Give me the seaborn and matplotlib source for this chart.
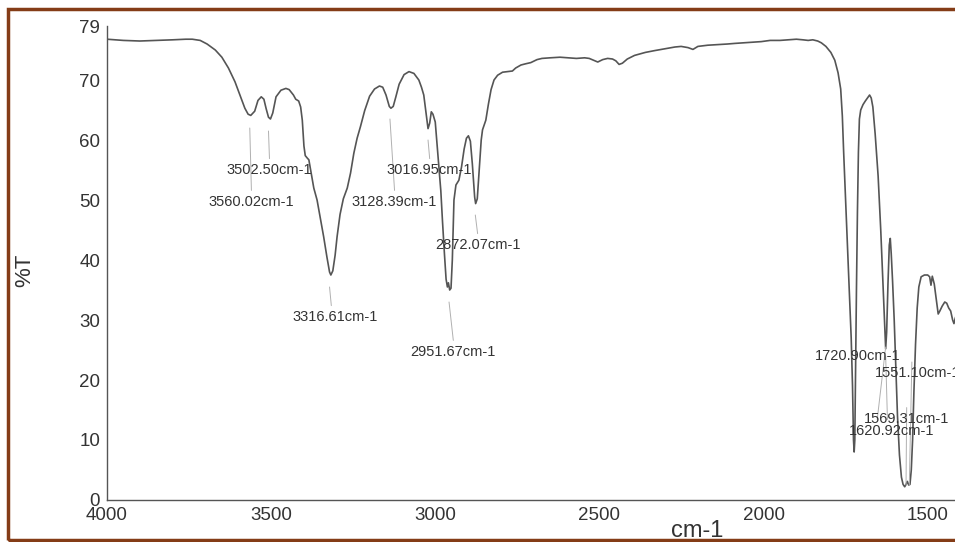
import matplotlib
matplotlib.use("Agg")
import matplotlib.pyplot as plt
from matplotlib.patches import Rectangle
import pandas as pd
import seaborn as sns

# FTIR spectrum: wavenumber (cm-1) and transmittance (%T)
wavenumber = [
    4000, 3950, 3900, 3850, 3800, 3760, 3740, 3716, 3695, 3670, 3650, 3630, 3610,
    3595, 3580, 3570, 3562, 3550, 3540, 3530, 3522, 3515, 3508, 3502, 3495, 3485,
    3470, 3455, 3445, 3432, 3425, 3416, 3410, 3405, 3400, 3396, 3390, 3385, 3378,
    3370, 3360, 3350, 3340, 3330, 3322, 3318, 3312, 3305, 3299, 3290, 3280, 3268,
    3258, 3248, 3238, 3228, 3215, 3200, 3185, 3170, 3160, 3150, 3140, 3135, 3128,
    3120, 3110, 3095, 3080, 3065, 3050, 3042, 3035, 3028, 3022, 3017, 3012, 3007,
    3000, 2994, 2988, 2983, 2978, 2972, 2967, 2963, 2960, 2956, 2952, 2948, 2943,
    2937, 2928, 2920, 2912, 2905, 2899, 2893, 2887, 2880, 2877, 2872, 2866, 2860,
    2856, 2846, 2838, 2830, 2821, 2810, 2795, 2780, 2765, 2755, 2739, 2725, 2709,
    2690, 2675, 2650, 2620, 2597, 2570, 2545, 2531, 2518, 2505, 2490, 2475, 2460,
    2450, 2440, 2430, 2415, 2393, 2360, 2332, 2300, 2270, 2251, 2230, 2215, 2200,
    2170, 2140, 2110, 2088, 2060, 2030, 2007, 1980, 1950, 1925, 1900, 1880, 1864,
    1850, 1835, 1824, 1810, 1795, 1783, 1773, 1765, 1760, 1756, 1750, 1744, 1738,
    1733, 1729, 1726, 1724, 1722, 1720, 1717, 1714, 1711, 1708, 1704, 1697, 1690,
    1682, 1677, 1672, 1667, 1660, 1651, 1643, 1636, 1631, 1628, 1625, 1621, 1617,
    1614, 1611, 1607, 1602, 1597, 1592, 1586, 1580, 1575, 1570, 1566, 1562, 1558,
    1554, 1550, 1546, 1542, 1537, 1532, 1527, 1520, 1510, 1500, 1494, 1490, 1486,
    1480, 1474, 1468, 1463, 1456, 1448, 1442, 1436, 1430, 1424, 1420, 1416, 1411,
]
transmittance = [
    76.8, 76.6, 76.5, 76.6, 76.7, 76.8, 76.8, 76.6, 76.0, 75.0, 73.8, 72.0, 69.7,
    67.5, 65.3, 64.3, 64.1, 64.8, 66.6, 67.2, 66.8, 65.2, 63.8, 63.5, 64.5, 67.2,
    68.3, 68.6, 68.4, 67.5, 66.8, 66.5, 65.5, 63.3, 59.0, 57.4, 57.0, 56.7, 54.5,
    52.0, 50.0, 47.0, 43.9, 40.5, 38.0, 37.5, 38.2, 40.8, 43.9, 47.6, 50.2, 52.0,
    54.5, 57.8, 60.3, 62.2, 64.9, 67.3, 68.5, 69.0, 68.8, 67.5, 65.6, 65.3, 65.6,
    67.2, 69.3, 70.9, 71.4, 71.1, 70.0, 68.8, 67.5, 64.5, 61.9, 62.8, 64.7, 64.3,
    63.0, 59.0, 55.0, 51.5, 46.5, 41.0, 36.8, 35.5, 36.2, 35.0, 35.3, 40.0, 50.0,
    52.5, 53.3, 55.5, 58.5, 60.3, 60.7, 59.8, 56.0, 50.5, 49.4, 50.2, 55.0, 60.0,
    61.7, 63.3, 66.0, 68.4, 70.0, 70.8, 71.3, 71.4, 71.5, 72.0, 72.5, 72.7, 72.9,
    73.4, 73.6, 73.7, 73.8, 73.7, 73.6, 73.7, 73.6, 73.3, 73.0, 73.4, 73.6, 73.5,
    73.2, 72.6, 72.8, 73.5, 74.1, 74.6, 74.9, 75.2, 75.5, 75.6, 75.4, 75.1, 75.6,
    75.8, 75.9, 76.0, 76.1, 76.2, 76.3, 76.4, 76.6, 76.6, 76.7, 76.8, 76.7, 76.6,
    76.7, 76.5, 76.2, 75.6, 74.6, 73.3, 71.2, 68.5, 64.0, 58.0, 50.0, 42.0, 34.0,
    27.0, 19.0, 10.0, 8.0, 10.0, 20.0, 35.0, 48.0, 58.0, 63.5, 65.0, 65.9, 66.5,
    67.1, 67.5, 67.0, 65.5, 61.0, 54.0, 45.0, 35.6, 28.5, 25.2, 28.0, 36.0, 42.5,
    43.6, 41.0, 36.5, 30.0, 22.0, 14.0, 7.5, 3.8, 2.6, 2.2, 2.6, 3.1, 2.5,
    2.6, 5.0, 10.0, 18.0, 26.0, 32.0, 35.5, 37.2, 37.5, 37.5, 37.2, 35.8, 37.3,
    36.0, 33.5, 31.0, 31.5, 32.3, 33.0, 32.8, 32.0, 31.5, 30.0, 29.4, 30.3, 31.1,
]

# Peak annotations: label text, peak (x, y) and label centre (x, y)
peak_labels = ["3560.02cm-1", "3502.50cm-1", "3316.61cm-1", "3128.39cm-1",
               "3016.95cm-1", "2951.67cm-1", "2872.07cm-1", "1720.90cm-1",
               "1551.10cm-1", "1569.31cm-1", "1620.92cm-1"]
peak_x = [3565, 3508, 3322, 3138, 3022, 2958, 2878, 1628, 1556, 1566, 1628]
peak_y = [63.0, 62.5, 36.5, 64.5, 61.0, 34.0, 48.5, 26.5, 3.5, 3.5, 25.0]
label_x = [3560, 3505, 3304, 3124, 3017, 2945, 2871, 1714, 1530, 1564, 1610]
label_y = [49.7, 55.0, 30.5, 49.7, 55.0, 24.7, 42.5, 24.0, 21.1, 13.5, 11.5]
leader_end_y = [51.6, 56.9, 32.4, 51.6, 56.9, 26.6, 44.4, 13.4, 23.0, 15.4, 13.4]

y_ticks = [0, 10, 20, 30, 40, 50, 60, 70, 79]
x_ticks = [4000, 3500, 3000, 2500, 2000, 1500]

df = pd.DataFrame({"wavenumber": wavenumber, "T": transmittance})

sns.set_theme(style="white")
plt.rcParams["font.family"] = ["Liberation Sans", "DejaVu Sans"]

fig = plt.figure(figsize=(9.55, 5.42), dpi=100)
ax = fig.add_axes([0.112, 0.0775, 0.89, 0.8745])

sns.lineplot(data=df, x="wavenumber", y="T", ax=ax, color="#555555",
             linewidth=1.2, sort=False, estimator=None)

# leader lines and peak labels
for txt, px, py, lx, ly, ey in zip(peak_labels, peak_x, peak_y,
                                   label_x, label_y, leader_end_y):
    ax.plot([px, lx if abs(lx - px) < 15 else px + (lx - px) * 0.3],
            [py - 1.0, ey], color="#b0b0b0", linewidth=0.7)
    ax.text(lx, ly, txt, ha="center", va="center", fontsize=10.5,
            color="#333333")

ax.set_xlim(4000, 1411)
ax.set_ylim(0, 79)
ax.set_xticks(x_ticks)
ax.set_yticks(y_ticks)
ax.tick_params(axis="both", labelsize=13.5, colors="#333333", length=4,
               width=0.9, direction="out", pad=1)
ax.tick_params(axis="x", pad=1)

for side in ("top", "right"):
    ax.spines[side].set_visible(False)
for side in ("left", "bottom"):
    ax.spines[side].set_color("#555555")
    ax.spines[side].set_linewidth(1.0)

ax.set_ylabel("%T", fontsize=16, color="#333333", va="center")
ax.yaxis.set_label_coords(-0.097, 0.485)
ax.set_xlabel("cm-1", fontsize=17, color="#333333", va="center")
ax.xaxis.set_label_coords(0.694, -0.066)

# brown frame around the figure
fig.patches.append(Rectangle((8 / 955, 2 / 542), 1.2, 1 - 11 / 542,
                             transform=fig.transFigure, fill=False,
                             edgecolor="#843c17", linewidth=2.5,
                             clip_on=False))

fig.savefig("out.png", dpi=100, facecolor="white")
